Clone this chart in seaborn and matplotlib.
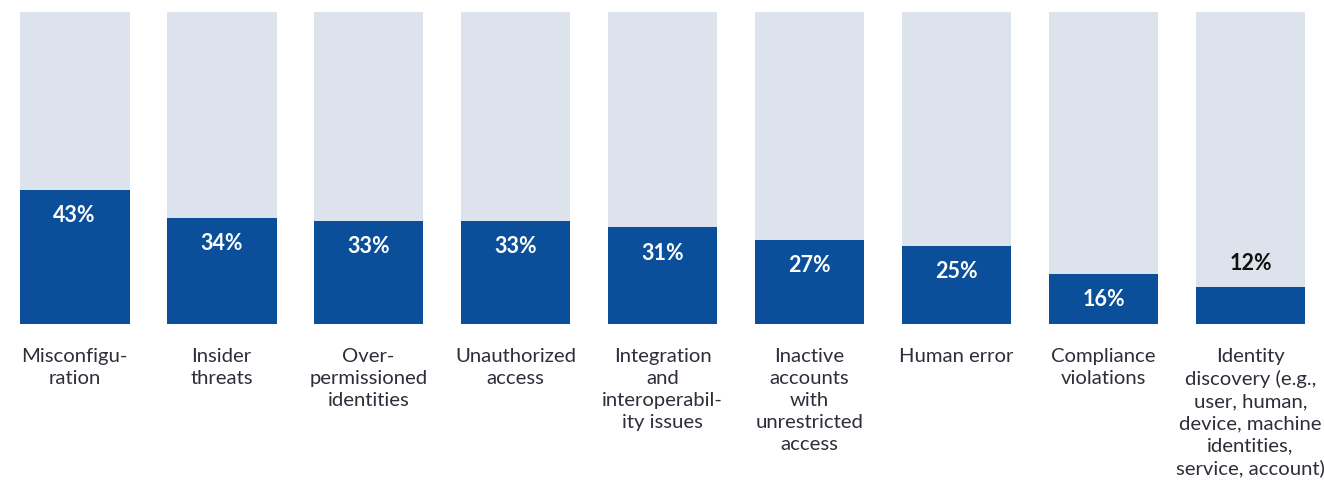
import matplotlib
matplotlib.use("Agg")
import matplotlib.pyplot as plt
import seaborn as sns
import pandas as pd

categories = [
    "Misconfigu-\nration",
    "Insider\nthreats",
    "Over-\npermissioned\nidentities",
    "Unauthorized\naccess",
    "Integration\nand\ninteroperabil-\nity issues",
    "Inactive\naccounts\nwith\nunrestricted\naccess",
    "Human error",
    "Compliance\nviolations",
    "Identity\ndiscovery (e.g.,\nuser, human,\ndevice, machine\nidentities,\nservice, account)",
]
values = [43, 34, 33, 33, 31, 27, 25, 16, 12]
totals = [100] * len(categories)

DARK = "#0B4F9B"
LIGHT = "#DCE3EC"
TEXT = "#2E2E3A"

sns.set_theme(style="white")
plt.rcParams["font.family"] = ["Lato", "DejaVu Sans"]

df = pd.DataFrame({"category": categories, "value": values, "total": totals})

fig = plt.figure(figsize=(13.24, 4.8), dpi=100)
ax = fig.add_axes([0.0, 156 / 480, 1.0, 312 / 480])

sns.barplot(data=df, x="category", y="total", color=LIGHT, width=0.748,
            saturation=1, linewidth=0, ax=ax, zorder=1)
sns.barplot(data=df, x="category", y="value", color=DARK, width=0.748,
            saturation=1, linewidth=0, ax=ax, zorder=2)

for i, v in enumerate(values):
    if v >= 15:
        ax.text(i, v - 8.3, f"{v}%", ha="center", va="center", color="white",
                fontsize=15.5, fontweight="bold", zorder=3)
    else:
        ax.text(i, v + 7.4, f"{v}%", ha="center", va="center", color="#111111",
                fontsize=15.5, fontweight="bold", zorder=3)

ax.set_xlim(-0.507, 8.5)
ax.set_ylim(0, 100)
ax.set_xlabel("")
ax.set_ylabel("")
ax.set_yticks([])
ax.tick_params(axis="x", length=0, pad=17)
ax.set_xticks(range(len(categories)))
ax.set_xticklabels(categories, fontsize=14.6, color=TEXT, linespacing=1.36,
                   multialignment="center")
for s in ax.spines.values():
    s.set_visible(False)

fig.savefig("out.png", dpi=100, facecolor="white")
